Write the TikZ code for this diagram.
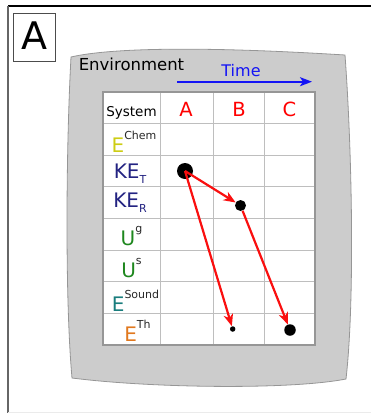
\documentclass[tikz,border=0pt]{standalone}
\usepackage{fontspec}
\setmainfont{DejaVu Sans}
\usetikzlibrary{arrows.meta}
\definecolor{envgray}{RGB}{204,204,204}
\definecolor{envedge}{RGB}{150,150,150}
\definecolor{gridgray}{RGB}{190,190,190}
\definecolor{tabedge}{RGB}{150,150,150}
\definecolor{chemcol}{RGB}{205,205,20}
\definecolor{kecol}{RGB}{35,35,130}
\definecolor{ucol}{RGB}{30,135,30}
\definecolor{soundcol}{RGB}{25,125,125}
\definecolor{thcol}{RGB}{225,120,30}
\definecolor{timecol}{RGB}{20,20,245}
\definecolor{arrred}{RGB}{250,15,15}
\definecolor{supcol}{RGB}{40,40,40}
\newcommand\myfs[1]{\fontsize{#1}{#1}\selectfont}
\newcommand\mysup[1]{\raisebox{12.5pt}{\myfs{11}\color{supcol}#1}}
\newcommand\mysub[1]{\raisebox{-5pt}{\myfs{11}#1}}
\tikzset{
  lab/.style={inner sep=0pt, anchor=base},
  dot/.style={circle, fill=black, inner sep=0pt},
  redarr/.style={draw=arrred, line width=2.2pt, -{Stealth[length=12pt, width=9.5pt, inset=3.5pt]}},
  gridline/.style={draw=gridgray, line width=0.9pt},
}
\begin{document}
\begin{tikzpicture}[x=1pt,y=-1pt]
\useasboundingbox (0,0) rectangle (371,413);
% outer frame
\draw[black, line width=1.4pt] (8,6) -- (371,6);
\draw[black!60, line width=1.4pt] (8,6) -- (8,413);
\draw[black!8, line width=0.8pt] (8,412.5) -- (371,412.5);
% panel label
\draw[black!70, line width=0.9pt, fill=white] (13,13) rectangle (55,61);
\node[lab] (plabel) at (34.5,49) {\myfs{38}A};
% environment
\draw[envedge, line width=0.8pt, fill=envgray]
  (71,57) .. controls (110,48) and (200,46) .. (345,55)
  .. controls (352,150) and (355,300) .. (346,379)
  .. controls (290,390) and (150,388) .. (72,378)
  .. controls (65,300) and (66,150) .. (71,57) -- cycle;
\node[lab] (env) at (131.5,70) {\myfs{16.5}Environment};
% time arrow
\node[lab, text=timecol] (time) at (241,76.7) {\myfs{16}Time};
\coordinate (t0) at (177,81.7);
\coordinate (t1) at (312,81.7);
\draw[timecol, line width=2pt, -{Stealth[length=12pt, width=9pt, inset=3pt]}] (t0) -- (t1);
% table
\fill[white] (103,92) rectangle (315,345);
\foreach \x in {160,213,264} \draw[gridline] (\x,92) -- (\x,345);
\foreach \i in {1,...,7} \draw[gridline] (103,{92+\i*31.625}) -- (315,{92+\i*31.625});
\draw[tabedge, line width=1.2pt] (103,92) rectangle (315,345);
% header
\node[lab] (sys) at (131.5,116.3) {\myfs{13.5}System};
\node[lab, text=red] (hA) at (186,116) {\myfs{19.5}A};
\node[lab, text=red] (hB) at (239,116) {\myfs{19.5}B};
\node[lab, text=red] (hC) at (289.5,116) {\myfs{19.5}C};
% row labels
\node[lab, text=chemcol] (echem) at (134,152) {\myfs{20}E\mysup{Chem}};
\node[lab, text=kecol] (ket) at (130,178) {\myfs{20}KE\mysub{T}};
\node[lab, text=kecol] (ker) at (130,207.5) {\myfs{20}KE\mysub{R}};
\node[lab, text=ucol] (ug) at (131.5,245) {\myfs{20}U\mysup{g}};
\node[lab, text=ucol] (us) at (131.5,277) {\myfs{20}U\mysup{s}};
\node[lab, text=soundcol] (esound) at (135.5,311) {\myfs{20}E\mysup{Sound}};
\node[lab, text=thcol] (eth) at (137.5,341) {\myfs{20}E\mysup{Th}};
% dots
\node[dot, minimum size=16pt] (d1) at (185,171) {};
\node[dot, minimum size=11pt] (d2) at (240.5,205.5) {};
\node[dot, minimum size=5.5pt] (d3) at (232.7,329) {};
\node[dot, minimum size=11.5pt] (d4) at (290,330) {};
% arrows
\draw[redarr] (d1.center) -- (d2);
\draw[redarr] (d1.center) -- (d3);
\draw[redarr] (d2) -- (d4);
\end{tikzpicture}
\end{document}
